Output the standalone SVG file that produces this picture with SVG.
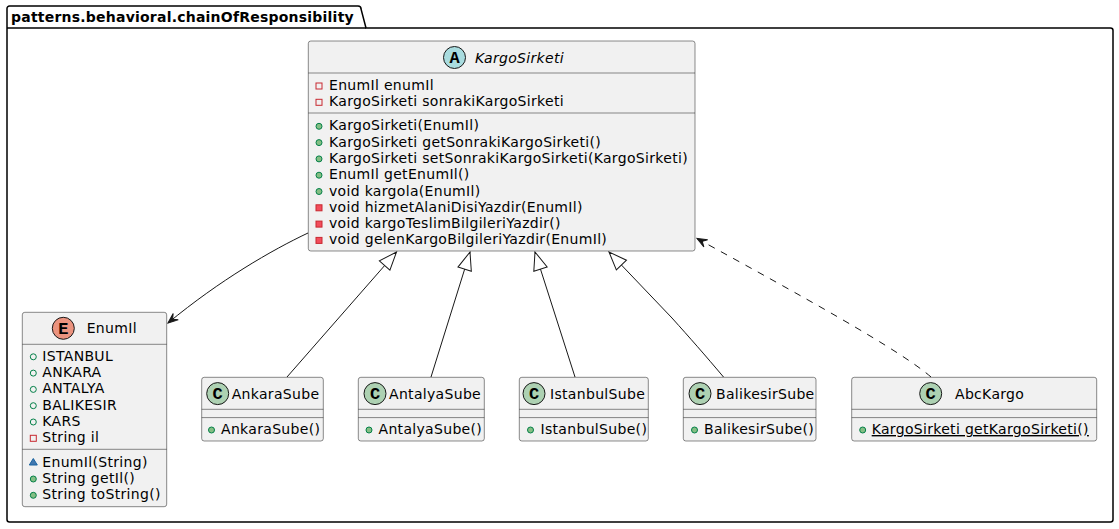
<svg xmlns="http://www.w3.org/2000/svg" width="1119" height="529" viewBox="0 0 1119 529">
<style>
.box{fill:#F1F1F1;stroke:#181818;stroke-width:0.5}
.dv{stroke:#181818;stroke-width:0.5}
.t{font-family:"DejaVu Sans",sans-serif;font-size:14px;fill:#000000;letter-spacing:0.32px}
.it{font-style:italic}
.pkg{fill:none;stroke:#000000;stroke-width:1.5}
.pt{font-family:"DejaVu Sans",sans-serif;font-size:14px;font-weight:bold;fill:#000000;letter-spacing:0.22px}
.conn{fill:none;stroke:#181818;stroke-width:1}
.dash{stroke-dasharray:7,7}
.pubm{fill:#84BE84;stroke:#038048;stroke-width:1}
.pubf{fill:none;stroke:#038048;stroke-width:1}
.privf{fill:none;stroke:#C82930;stroke-width:1}
.privm{fill:#F24D5C;stroke:#C82930;stroke-width:1}
.pkgm{fill:#4177AF;stroke:#1963A0;stroke-width:1}
.hc{stroke:#181818;stroke-width:1}
.cA{fill:#A9DCDF}
.cE{fill:#EB937F}
.cC{fill:#ADD1B2}
.hl{font-family:"Liberation Mono",monospace;font-size:17px;font-weight:bold;fill:#000000;text-anchor:middle}
</style>
<defs>
<marker id="arr" markerUnits="userSpaceOnUse" markerWidth="14" markerHeight="12" viewBox="-11 -6 12 12" refX="0" refY="0" orient="auto">
<path d="M0,0 L-10,-4 L-6,0 L-10,4 Z" fill="#181818" stroke="#181818" stroke-width="1"/>
</marker>
<marker id="ext" markerUnits="userSpaceOnUse" markerWidth="22" markerHeight="18" viewBox="-20 -9 22 18" refX="0" refY="0" orient="auto">
<path d="M0,0 L-18,-7 L-18,7 Z" fill="#FFFFFF" stroke="#181818" stroke-width="1"/>
</marker>
</defs>

<g id="package">
<path class="pkg" d="M9.5,6 L358,6 A3,3 0 0 1 361,9 L366,28 L1110.5,28 A2.5,2.5 0 0 1 1113,30.5 L1113,519.5 A2.5,2.5 0 0 1 1110.5,522 L9.5,522 A2.5,2.5 0 0 1 7,519.5 L7,8.5 A2.5,2.5 0 0 1 9.5,6 Z"/>
<line class="pkg" x1="7" y1="28" x2="366" y2="28"/>
<text class="pt" x="11" y="22">patterns.behavioral.chainOfResponsibility</text>
</g>

<g id="connectors">
<path class="conn" d="M308,233 C272,250 220,280 168,323" marker-end="url(#arr)"/>
<path class="conn" d="M287,377 L396.5,252" marker-end="url(#ext)"/>
<path class="conn" d="M431,377 L470,252" marker-end="url(#ext)"/>
<path class="conn" d="M575,377 L535,252" marker-end="url(#ext)"/>
<path class="conn" d="M723.5,377 C705,355 690,338 672,318 L609,252" marker-end="url(#ext)"/>
<path class="conn dash" d="M931,377 C900,350 800,295 697,238.5" marker-end="url(#arr)"/>
</g>

<g id="KargoSirketi">
<rect class="box" x="308.3" y="41" width="386.7" height="210" rx="2.5"/>
<circle class="hc cA" cx="454.5" cy="57.5" r="11"/>
<text class="hl" x="454.5" y="63">A</text>
<text class="t it" x="475" y="62.5">KargoSirketi</text>
<line class="dv" x1="308.3" y1="73" x2="695" y2="73"/>
<rect class="privf" x="316" y="83" width="6" height="6"/>
<text class="t" x="329" y="90">EnumIl enumIl</text>
<rect class="privf" x="316" y="99.3" width="6" height="6"/>
<text class="t" x="329" y="106.3">KargoSirketi sonrakiKargoSirketi</text>
<line class="dv" x1="308.3" y1="113" x2="695" y2="113"/>
<circle class="pubm" cx="319" cy="126.3" r="3"/>
<text class="t" x="329" y="130.3">KargoSirketi(EnumIl)</text>
<circle class="pubm" cx="319" cy="142.6" r="3"/>
<text class="t" x="329" y="146.6">KargoSirketi getSonrakiKargoSirketi()</text>
<circle class="pubm" cx="319" cy="158.9" r="3"/>
<text class="t" x="329" y="162.9">KargoSirketi setSonrakiKargoSirketi(KargoSirketi)</text>
<circle class="pubm" cx="319" cy="175.2" r="3"/>
<text class="t" x="329" y="179.2">EnumIl getEnumIl()</text>
<circle class="pubm" cx="319" cy="191.5" r="3"/>
<text class="t" x="329" y="195.5">void kargola(EnumIl)</text>
<rect class="privm" x="316" y="204.8" width="6" height="6"/>
<text class="t" x="329" y="211.8">void hizmetAlaniDisiYazdir(EnumIl)</text>
<rect class="privm" x="316" y="221.1" width="6" height="6"/>
<text class="t" x="329" y="228.1">void kargoTeslimBilgileriYazdir()</text>
<rect class="privm" x="316" y="237.4" width="6" height="6"/>
<text class="t" x="329" y="244.4">void gelenKargoBilgileriYazdir(EnumIl)</text>
</g>

<g id="EnumIl">
<rect class="box" x="22.3" y="312.3" width="144.4" height="194.4" rx="2.5"/>
<circle class="hc cE" cx="63.3" cy="328.3" r="11"/>
<text class="hl" x="63.3" y="334">E</text>
<text class="t" x="86.7" y="333.3">EnumIl</text>
<line class="dv" x1="22.3" y1="344.3" x2="166.7" y2="344.3"/>
<circle class="pubf" cx="33.3" cy="356.8" r="3"/>
<text class="t" x="42.3" y="360.8">ISTANBUL</text>
<circle class="pubf" cx="33.3" cy="373.1" r="3"/>
<text class="t" x="42.3" y="377.1">ANKARA</text>
<circle class="pubf" cx="33.3" cy="389.4" r="3"/>
<text class="t" x="42.3" y="393.4">ANTALYA</text>
<circle class="pubf" cx="33.3" cy="405.7" r="3"/>
<text class="t" x="42.3" y="409.7">BALIKESIR</text>
<circle class="pubf" cx="33.3" cy="422" r="3"/>
<text class="t" x="42.3" y="426">KARS</text>
<rect class="privf" x="30.3" y="435.3" width="6" height="6"/>
<text class="t" x="42.3" y="442.3">String il</text>
<line class="dv" x1="22.3" y1="449.3" x2="166.7" y2="449.3"/>
<polygon class="pkgm" points="33.3,458.5 37.3,465 29.3,465"/>
<text class="t" x="42.3" y="466.7">EnumIl(String)</text>
<circle class="pubm" cx="33.3" cy="479" r="3"/>
<text class="t" x="42.3" y="483">String getIl()</text>
<circle class="pubm" cx="33.3" cy="495.3" r="3"/>
<text class="t" x="42.3" y="499.3">String toString()</text>
</g>

<g id="AnkaraSube">
<rect class="box" x="201.7" y="377.3" width="121.6" height="63.7" rx="2.5"/>
<circle class="hc cC" cx="217.7" cy="393.6" r="11"/>
<text class="hl" x="217.7" y="399.3">C</text>
<text class="t" x="231.7" y="398.6">AnkaraSube</text>
<line class="dv" x1="201.7" y1="409.3" x2="323.3" y2="409.3"/>
<line class="dv" x1="201.7" y1="417.6" x2="323.3" y2="417.6"/>
<circle class="pubm" cx="211.5" cy="430" r="3"/>
<text class="t" x="221" y="434">AnkaraSube()</text>
</g>

<g id="AntalyaSube">
<rect class="box" x="358.3" y="377.3" width="126" height="63.7" rx="2.5"/>
<circle class="hc cC" cx="375" cy="393.6" r="11"/>
<text class="hl" x="375" y="399.3">C</text>
<text class="t" x="389" y="398.6">AntalyaSube</text>
<line class="dv" x1="358.3" y1="409.3" x2="484.3" y2="409.3"/>
<line class="dv" x1="358.3" y1="417.6" x2="484.3" y2="417.6"/>
<circle class="pubm" cx="369" cy="430" r="3"/>
<text class="t" x="378.5" y="434">AntalyaSube()</text>
</g>

<g id="IstanbulSube">
<rect class="box" x="519.3" y="377.3" width="129" height="63.7" rx="2.5"/>
<circle class="hc cC" cx="534" cy="393.6" r="11"/>
<text class="hl" x="534" y="399.3">C</text>
<text class="t" x="550" y="398.6">IstanbulSube</text>
<line class="dv" x1="519.3" y1="409.3" x2="648.3" y2="409.3"/>
<line class="dv" x1="519.3" y1="417.6" x2="648.3" y2="417.6"/>
<circle class="pubm" cx="530.5" cy="430" r="3"/>
<text class="t" x="540.5" y="434">IstanbulSube()</text>
</g>

<g id="BalikesirSube">
<rect class="box" x="683.3" y="377.3" width="132.7" height="63.7" rx="2.5"/>
<circle class="hc cC" cx="700" cy="393.6" r="11"/>
<text class="hl" x="700" y="399.3">C</text>
<text class="t" x="716" y="398.6">BalikesirSube</text>
<line class="dv" x1="683.3" y1="409.3" x2="816" y2="409.3"/>
<line class="dv" x1="683.3" y1="417.6" x2="816" y2="417.6"/>
<circle class="pubm" cx="694.5" cy="430" r="3"/>
<text class="t" x="704" y="434">BalikesirSube()</text>
</g>

<g id="AbcKargo">
<rect class="box" x="851.7" y="377.3" width="245" height="63.7" rx="2.5"/>
<circle class="hc cC" cx="930.7" cy="393.6" r="11"/>
<text class="hl" x="930.7" y="399.3">C</text>
<text class="t" x="955" y="398.6">AbcKargo</text>
<line class="dv" x1="851.7" y1="409.3" x2="1096.7" y2="409.3"/>
<line class="dv" x1="851.7" y1="417.6" x2="1096.7" y2="417.6"/>
<circle class="pubm" cx="862.7" cy="430" r="3"/>
<text class="t" x="871.7" y="434" text-decoration="underline">KargoSirketi getKargoSirketi()</text>
</g>
</svg>
